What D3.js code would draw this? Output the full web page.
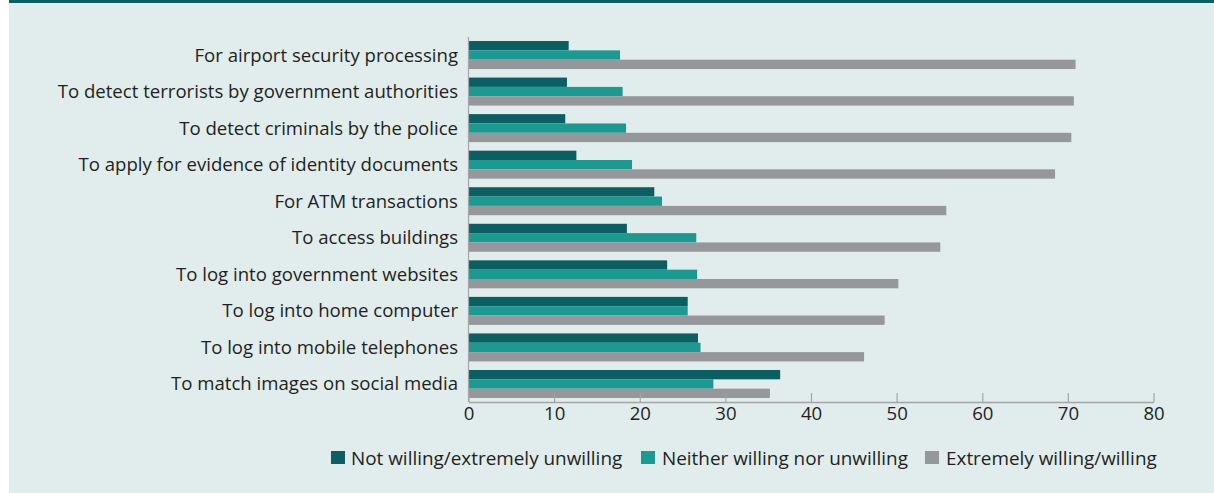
<!DOCTYPE html>
<html>
<head>
<meta charset="utf-8">
<script src="https://cdn.jsdelivr.net/npm/d3@7"></script>
<style>
  html, body { margin: 0; padding: 0; background: #ffffff; }
  svg { display: block; }
  text { font-family: "Open Sans", "Noto Sans", sans-serif; fill: #231f20; }
</style>
</head>
<body>
<svg id="chart" width="1214" height="493"></svg>
<script>
// Willingness to have face images used, by purpose (%)
const categories = [
  "For airport security processing",
  "To detect terrorists by government authorities",
  "To detect criminals by the police",
  "To apply for evidence of identity documents",
  "For ATM transactions",
  "To access buildings",
  "To log into government websites",
  "To log into home computer",
  "To log into mobile telephones",
  "To match images on social media"
];
const seriesNames = [
  "Not willing/extremely unwilling",
  "Neither willing nor unwilling",
  "Extremely willing/willing"
];
const notWilling     = [11.7, 11.5, 11.3, 12.6, 21.7, 18.5, 23.2, 25.6, 26.8, 36.4];
const neitherWilling = [17.7, 18.0, 18.4, 19.1, 22.6, 26.6, 26.7, 25.6, 27.1, 28.6];
const willing        = [70.9, 70.7, 70.4, 68.5, 55.8, 55.1, 50.2, 48.6, 46.2, 35.2];
const xTicks = [0, 10, 20, 30, 40, 50, 60, 70, 80];

const colors = ["#0b5f63", "#1a9a91", "#96979b"];
const seriesValues = [notWilling, neitherWilling, willing];

const svg = d3.select("#chart");

// panel background and top rule
svg.append("rect").attr("x", 9).attr("y", 0).attr("width", 1205).attr("height", 493).attr("fill", "#e1edec");
svg.append("rect").attr("x", 9).attr("y", 0).attr("width", 1205).attr("height", 3).attr("fill", "#0b5f63");

const x = d3.scaleLinear().domain([0, 80]).range([468.5, 1153.5]);
const y = d3.scaleBand().domain(categories).range([37, 402]).paddingInner(0.234).paddingOuter(0.11);
const ySub = d3.scaleBand().domain(d3.range(3)).range([0, y.bandwidth()]);

// bars
const groups = svg.append("g").selectAll("g")
  .data(categories)
  .join("g")
  .attr("transform", d => `translate(0,${y(d)})`);

groups.selectAll("rect")
  .data((d, i) => seriesValues.map((s, k) => ({ k, v: s[i] })))
  .join("rect")
  .attr("x", x(0))
  .attr("y", d => ySub(d.k))
  .attr("width", d => x(d.v) - x(0))
  .attr("height", ySub.bandwidth())
  .attr("fill", d => colors[d.k]);

// category labels
svg.append("g").selectAll("text")
  .data(categories)
  .join("text")
  .attr("x", 458)
  .attr("y", d => y(d) + y.bandwidth() / 2)
  .attr("dy", "0.35em")
  .attr("text-anchor", "end")
  .attr("font-size", 18.6)
  .text(d => d);

// left axis line
svg.append("line")
  .attr("x1", x(0)).attr("x2", x(0))
  .attr("y1", 37).attr("y2", 402)
  .attr("stroke", "#a3a5a7").attr("stroke-width", 1.2);

// bottom axis, ticks pointing up
const axis = svg.append("g")
  .attr("transform", "translate(0,402)")
  .call(d3.axisBottom(x).tickValues(xTicks).tickSizeInner(-9).tickSizeOuter(0).tickPadding(5));
axis.select(".domain").attr("stroke", "#a3a5a7").attr("stroke-width", 1.5);
axis.selectAll(".tick line").attr("stroke", "#a3a5a7").attr("stroke-width", 1.2);
axis.selectAll(".tick text")
  .attr("font-size", 18.6)
  .attr("font-family", "'Open Sans', 'Noto Sans', sans-serif")
  .attr("fill", "#231f20");

// legend
const legendItems = [
  { name: seriesNames[0], color: colors[0], sx: 331, tx: 351 },
  { name: seriesNames[1], color: colors[1], sx: 641, tx: 662 },
  { name: seriesNames[2], color: colors[2], sx: 925, tx: 946 }
];
const legend = svg.append("g").selectAll("g").data(legendItems).join("g");
legend.append("rect")
  .attr("x", d => d.sx).attr("y", 451)
  .attr("width", 14).attr("height", 13)
  .attr("fill", d => d.color);
legend.append("text")
  .attr("x", d => d.tx).attr("y", 458)
  .attr("dy", "0.35em")
  .attr("font-size", 18.9)
  .text(d => d.name);
</script>
</body>
</html>
